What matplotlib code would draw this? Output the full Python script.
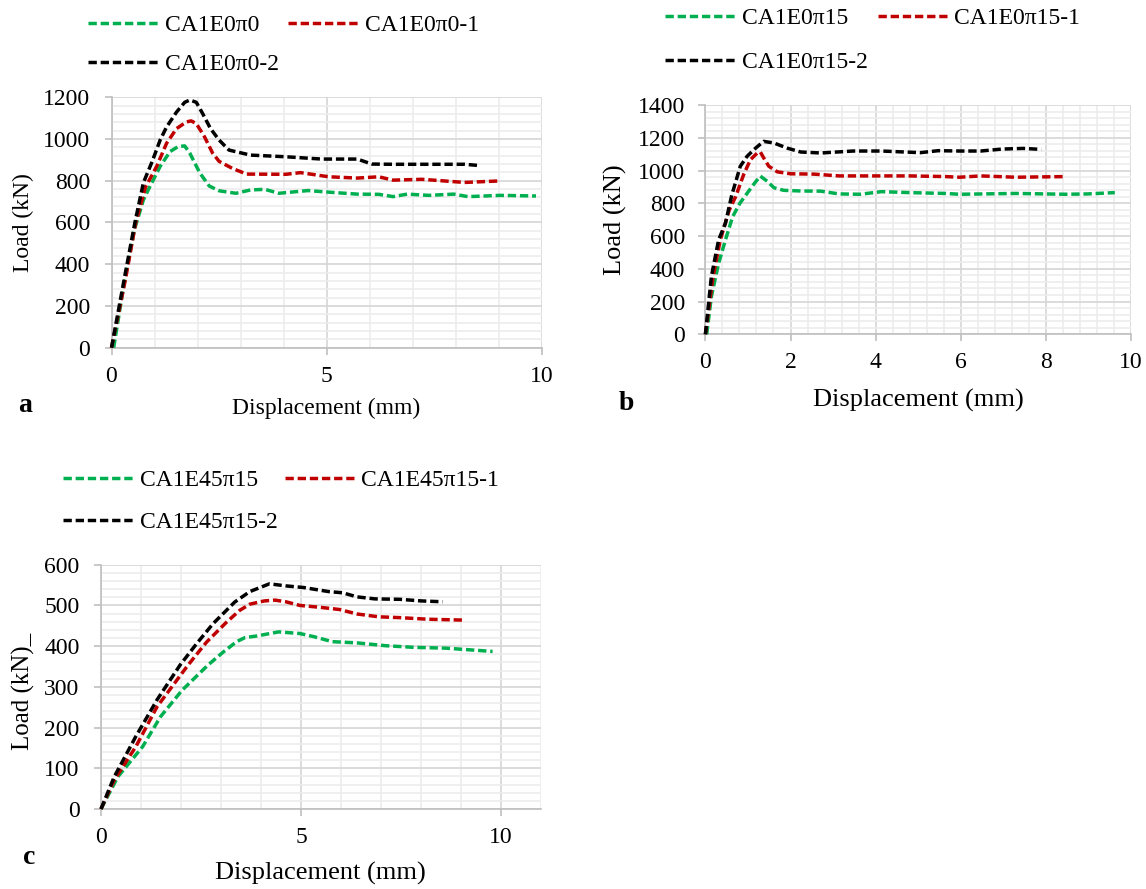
import matplotlib
matplotlib.use("Agg")
import matplotlib.pyplot as plt
from matplotlib.ticker import MultipleLocator

plt.rcParams['font.family'] = ['Liberation Serif', 'DejaVu Serif']

# ---------------- data ----------------
# Panel a
a_g_x = [0.05, 0.28, 0.53, 0.74, 0.86, 1.13, 1.36, 1.55, 1.70, 1.82, 2.05, 2.27, 2.50, 2.89, 3.23, 3.56, 3.89, 4.56, 5.21, 5.71, 6.21, 6.54, 6.87, 7.37, 7.95, 8.28, 9.03, 9.86]
a_g_y = [0, 292, 564, 708, 759, 869, 940, 964, 967, 932, 838, 775, 752, 740, 756, 759, 740, 753, 743, 736, 735, 724, 736, 730, 736, 724, 730, 727]
a_r_x = [0, 0.32, 0.56, 0.79, 1.05, 1.28, 1.51, 1.74, 1.85, 1.97, 2.16, 2.35, 2.50, 2.81, 3.14, 4.05, 4.39, 5.05, 5.71, 6.21, 6.54, 7.21, 8.20, 8.99]
a_r_y = [0, 324, 596, 770, 869, 980, 1050, 1082, 1087, 1074, 1011, 932, 893, 859, 832, 831, 839, 819, 813, 819, 803, 807, 792, 799]
a_k_x = [0, 0.32, 0.54, 0.74, 0.94, 1.13, 1.28, 1.51, 1.70, 1.82, 1.97, 2.12, 2.30, 2.50, 2.73, 3.23, 4.05, 4.88, 5.71, 6.05, 6.54, 8.20, 8.49]
a_k_y = [0, 356, 596, 790, 890, 995, 1058, 1129, 1176, 1187, 1176, 1121, 1050, 995, 947, 923, 915, 904, 904, 880, 879, 879, 874]

# Panel b
b_g_x = [0.03, 0.14, 0.31, 0.47, 0.64, 0.81, 1.02, 1.18, 1.29, 1.45, 1.61, 1.84, 2.24, 2.71, 3.14, 3.64, 4.14, 4.80, 5.64, 5.97, 7.30, 8.47, 8.97, 9.62]
b_g_y = [0, 230, 433, 576, 718, 800, 875, 931, 966, 935, 895, 879, 875, 874, 857, 855, 871, 865, 860, 855, 860, 855, 857, 865]
b_r_x = [0, 0.18, 0.35, 0.56, 0.71, 0.90, 1.06, 1.22, 1.29, 1.37, 1.49, 1.69, 2.00, 2.55, 3.14, 3.97, 4.80, 5.64, 5.97, 6.47, 7.30, 8.47]
b_r_y = [0, 352, 576, 759, 840, 976, 1067, 1107, 1113, 1077, 1026, 992, 980, 978, 967, 967, 967, 963, 959, 967, 959, 963]
b_k_x = [0, 0.14, 0.31, 0.47, 0.62, 0.82, 0.98, 1.18, 1.37, 1.61, 1.92, 2.24, 2.71, 3.47, 4.14, 5.05, 5.47, 5.97, 6.47, 6.97, 7.47, 7.89]
b_k_y = [0, 352, 576, 678, 850, 1026, 1087, 1137, 1178, 1168, 1137, 1113, 1107, 1119, 1119, 1109, 1121, 1119, 1119, 1131, 1135, 1129]

# Panel c
c_g_x = [0, 0.42, 1.04, 1.49, 2.03, 2.68, 3.05, 3.39, 3.60, 3.90, 4.44, 4.97, 5.33, 5.78, 6.40, 7.12, 7.83, 8.63, 9.35, 9.79]
c_g_y = [0, 79, 153, 227, 292, 354, 385, 411, 421, 425, 435, 431, 423, 411, 408, 401, 397, 395, 390, 387]
c_r_x = [0, 0.33, 0.87, 1.40, 2.18, 2.64, 3.14, 3.47, 3.72, 4.08, 4.35, 4.62, 4.97, 5.51, 5.96, 6.40, 6.94, 7.47, 8.19, 9.04]
c_r_y = [0, 71, 153, 251, 354, 410, 459, 488, 503, 511, 513, 509, 500, 495, 490, 479, 472, 470, 466, 464]
c_k_x = [0, 0.33, 0.87, 1.40, 1.98, 2.39, 2.80, 3.34, 3.72, 4.21, 4.62, 5.06, 5.69, 6.04, 6.40, 6.85, 7.47, 8.01, 8.54]
c_k_y = [0, 79, 178, 268, 354, 406, 455, 508, 534, 553, 548, 544, 534, 531, 521, 516, 515, 511, 509]

labels_a = ['CA1E0π0', 'CA1E0π0-1', 'CA1E0π0-2']
labels_b = ['CA1E0π15', 'CA1E0π15-1', 'CA1E0π15-2']
labels_c = ['CA1E45π15', 'CA1E45π15-1', 'CA1E45π15-2']

# ---------------- style ----------------
GREEN = '#00b050'
RED = '#c00000'
BLACK = '#000000'
DASH = (0, (2.4, 1.1))
W, H = 1146, 889

fig = plt.figure(figsize=(W / 100, H / 100), dpi=100)


def px_axes(l, r, t, b):
    return fig.add_axes([l / W, 1 - b / H, (r - l) / W, (b - t) / H])


def style(ax, xmax, ymax, xmaj, xmin, ymaj, ymin, ypad):
    ax.set_xlim(0, xmax)
    ax.set_ylim(0, ymax)
    ax.xaxis.set_major_locator(MultipleLocator(xmaj))
    ax.xaxis.set_minor_locator(MultipleLocator(xmin))
    ax.yaxis.set_major_locator(MultipleLocator(ymaj))
    ax.yaxis.set_minor_locator(MultipleLocator(ymin))
    ax.grid(which='major', color='#d6d6d6', lw=1.2, zorder=0)
    ax.grid(which='minor', color='#ececec', lw=1.2, zorder=0)
    ax.set_axisbelow(True)
    for s in ['top', 'right']:
        ax.spines[s].set_visible(False)
    for s in ['left', 'bottom']:
        ax.spines[s].set_color('#bfbfbf')
        ax.spines[s].set_linewidth(1.2)
    ax.tick_params(which='major', direction='out', length=5, width=1.2,
                   color='#bfbfbf', labelsize=17, labelcolor='black')
    ax.tick_params(axis='x', which='major', pad=8)
    ax.tick_params(axis='y', which='major', pad=ypad)
    ax.tick_params(which='minor', length=0)


def draw(ax, series, labels, legend_anchor, colspacing, rowspacing, xlabel_pos,
         ylabel_pos, ylabel, xfs, yfs, letter, letter_pos):
    handles = []
    for (x, y), c, lab in zip(series, [GREEN, RED, BLACK], labels):
        h, = ax.plot(x, y, color=c, lw=2.5, linestyle=DASH, label=lab,
                     clip_on=False, zorder=3, dash_joinstyle='round',
                     dash_capstyle='butt')
        handles.append(h)
    order = [handles[0], handles[2], handles[1]]
    ax.legend(order, [h.get_label() for h in order], ncol=2, frameon=False,
              loc='upper left', bbox_to_anchor=(legend_anchor[0] / W, 1 - legend_anchor[1] / H),
              bbox_transform=fig.transFigure, borderaxespad=0, borderpad=0,
              fontsize=17, handlelength=2.95, handletextpad=0.3,
              columnspacing=colspacing, labelspacing=rowspacing)
    fig.text(xlabel_pos[0] / W, 1 - xlabel_pos[1] / H, 'Displacement (mm)',
             ha='center', va='center', fontsize=xfs)
    fig.text(ylabel_pos[0] / W, 1 - ylabel_pos[1] / H, ylabel, rotation=90,
             ha='center', va='center', fontsize=yfs)
    fig.text(letter_pos[0] / W, 1 - letter_pos[1] / H, letter, ha='center',
             va='center', fontsize=20, fontweight='bold')


# Panel a
ax_a = px_axes(111.5, 542, 97.3, 347.7)
style(ax_a, 10, 1200, 5, 1, 200, 40, 10.5)
draw(ax_a, [(a_g_x, a_g_y), (a_r_x, a_r_y), (a_k_x, a_k_y)], labels_a,
     (88, 14.5), 0.41, 0.75, (326, 408), (23, 223), 'Load (kN)', 17, 17,
     'a', (25, 405))

# Panel b
ax_b = px_axes(705.4, 1131, 105, 334.3)
style(ax_b, 10, 1400, 2, 0.4, 200, 40, 9.5)
draw(ax_b, [(b_g_x, b_g_y), (b_r_x, b_r_y), (b_k_x, b_k_y)], labels_b,
     (665, 7.5), 0.42, 0.97, (918, 400), (615, 220), 'Load (kN)', 19, 19,
     'b', (626, 404))

# Panel c
ax_c = px_axes(101, 541, 564.7, 809)
style(ax_c, 11, 600, 5, 1, 100, 20, 10.5)
ax_c.set_xticks([0, 5, 10])
draw(ax_c, [(c_g_x, c_g_y), (c_r_x, c_r_y), (c_k_x, c_k_y)], labels_c,
     (63, 469.5), 0.3, 0.88, (320, 873), (23, 691), 'Load (kN)_', 19, 18,
     'c', (29, 858))

fig.savefig('out.png', dpi=100)
